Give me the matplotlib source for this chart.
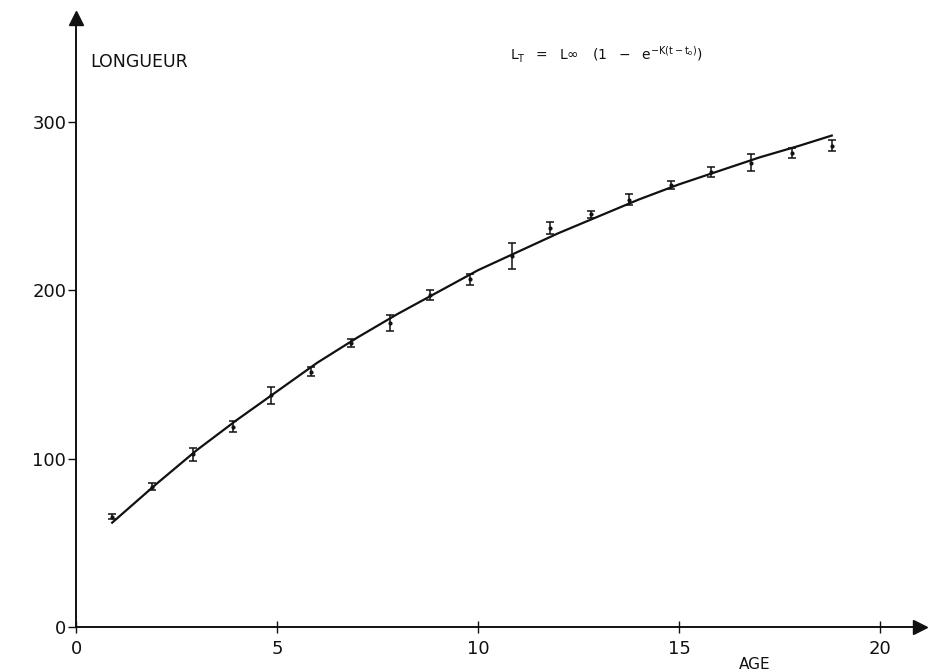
import matplotlib
matplotlib.use("Agg")
import matplotlib.pyplot as plt

# --- data ---
ages = [0.9, 1.9, 2.9, 3.9, 4.85, 5.85, 6.85, 7.8, 8.8, 9.8,
        10.85, 11.8, 12.8, 13.75, 14.8, 15.8, 16.8, 17.8, 18.8]
lengths = [65.5, 83.4, 102.6, 119.0, 137.6, 151.7, 168.6, 180.5, 197.3, 206.5,
           220.4, 236.9, 245.2, 253.9, 262.6, 270.4, 275.9, 281.8, 286.0]
errors = [1.5, 2.2, 3.8, 3.4, 5.2, 2.8, 2.5, 4.7, 2.8, 3.0,
          7.9, 3.6, 1.9, 3.2, 2.3, 2.8, 5.0, 3.0, 3.4]

curve_age = [0.9, 2, 3, 4, 5, 6, 7, 8, 9, 10, 11, 12, 13, 14, 15, 16, 17, 18, 18.8]
curve_len = [62, 85, 105, 123, 140, 157, 172, 186, 199, 212, 223, 234, 244, 254,
             263, 271, 279, 286, 292]

x_ticks = [0, 5, 10, 15, 20]
x_tick_labels = ["0", "5", "10", "15", "20"]
y_ticks = [0, 100, 200, 300]
y_tick_labels = ["0", "100", "200", "300"]

W, H = 932, 670
x0_px, y0_px = 76, 627
px_per_x, px_per_y = 40.2, 1.683
xmax, ymax = 21.0, 362.0

fig = plt.figure(figsize=(W / 100, H / 100), dpi=100)
ax = fig.add_axes([x0_px / W, (H - y0_px) / H,
                   xmax * px_per_x / W, ymax * px_per_y / H])
ax.set_xlim(0, xmax)
ax.set_ylim(0, ymax)

for s in ["top", "right"]:
    ax.spines[s].set_visible(False)
for s in ["left", "bottom"]:
    ax.spines[s].set_linewidth(1.4)
    ax.spines[s].set_color("#111111")

ax.plot(curve_age, curve_len, color="#111111", lw=1.6)
ax.errorbar(ages, lengths, yerr=errors, fmt="o", ms=2, color="#111111",
            ecolor="#111111", elinewidth=1.1, capsize=3, capthick=1.1)

ax.set_xticks(x_ticks)
ax.set_xticklabels(x_tick_labels)
ax.set_yticks(y_ticks)
ax.set_yticklabels(y_tick_labels)
ax.tick_params(axis="x", direction="inout", length=8, width=1.0, pad=5,
               labelsize=13, colors="#111111")
ax.tick_params(axis="y", direction="out", length=6, width=1.0, pad=1,
               labelsize=13, colors="#111111")

# axis arrows
ax.plot([0], [ymax], marker="^", ms=10, color="#111111", clip_on=False)
ax.plot([xmax], [0], marker=">", ms=10, color="#111111", clip_on=False)

ax.text(0.35, 335.5, "LONGUEUR", fontsize=12.5, color="#111111", va="center")
ax.text(10.8, 340, r"$\mathrm{L_T\ \ =\ \ L\infty\ \ \ (1\ \ -\ \ e^{-K(t-t_o)})}$",
        fontsize=10, color="#111111", va="center")
ax.text(16.5, -22, "AGE", fontsize=11, color="#111111", va="center",
        clip_on=False)

fig.savefig("out.png", dpi=100)
